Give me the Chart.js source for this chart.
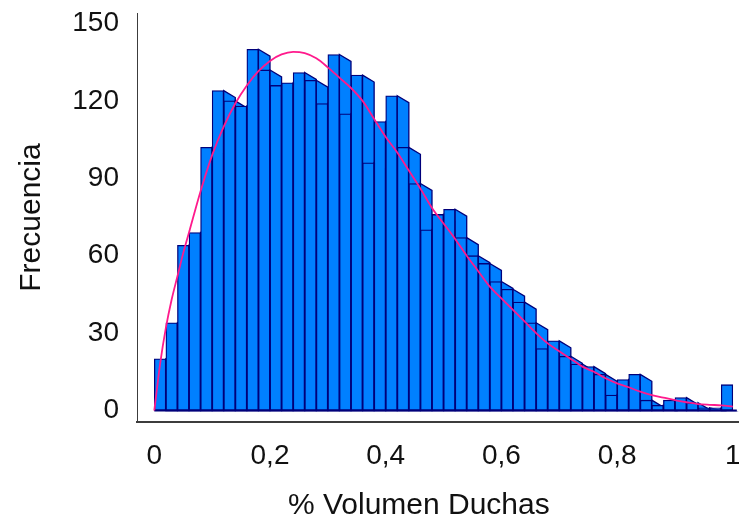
<!DOCTYPE html>
<html>
<head>
<meta charset="utf-8">
<script src="https://cdn.jsdelivr.net/npm/chart.js@4.4.1/dist/chart.umd.min.js"></script>
<style>
  html, body { margin: 0; padding: 0; background: #ffffff; }
  #wrap { width: 739px; height: 524px; }
</style>
</head>
<body>
<div id="wrap"><canvas id="chart" width="739" height="524"></canvas></div>
<script>
// Histogram bins (centre of each 0,02-wide class) and their frequencies
const binCenters = [0.01,0.03,0.05,0.07,0.09,0.11,0.13,0.15,0.17,0.19,
                    0.21,0.23,0.25,0.27,0.29,0.31,0.33,0.35,0.37,0.39,
                    0.41,0.43,0.45,0.47,0.49,0.51,0.53,0.55,0.57,0.59,
                    0.61,0.63,0.65,0.67,0.69,0.71,0.73,0.75,0.77,0.79,
                    0.81,0.83,0.85,0.87,0.89,0.91,0.93,0.95,0.97,0.99];
const frequencies = [20,34,64,69,102,124,120,118,140,132,
                     126,127,131,128,119,138,115,130,96,112,
                     122,102,88,70,76,78,67,60,57,50,
                     47,42,34,24,27,21,18,17,14,6,
                     12,14,4,2,4,5,3,1,1,10];

// Fitted density curve (scaled to frequencies)
const curveX = [0,0.01,0.02,0.03,0.04,0.05,0.06,0.08,0.10,0.12,0.14,0.16,0.18,0.20,0.22,0.24,0.26,0.28,
                0.30,0.32,0.34,0.36,0.38,0.40,0.42,0.44,0.46,0.48,0.50,0.52,0.54,0.56,0.58,
                0.60,0.62,0.64,0.66,0.68,0.70,0.72,0.74,0.76,0.78,0.80,0.82,0.84,0.86,0.88,
                0.90,0.92,0.94,0.96,0.98,1.00];
const curveY = [0,18,32,43,52,61,69,85,99,110,119,126,131.5,135.5,138,139,138.5,136.5,
                133,129,125,120,113,106,100,93,86,78.5,72.5,66.5,60,54,48,
                43.5,39,34.5,30,26,23,20,17,15,12.5,10.5,9,7.3,6,5,
                4,3.2,2.5,2.2,2,1.5];

// Axis ticks
const xTickValues = [0, 0.2, 0.4, 0.6, 0.8, 1];
const xTickLabels = ['0', '0,2', '0,4', '0,6', '0,8', '1'];
const yTickValues = [0, 30, 60, 90, 120, 150];

const BAR_FILL = '#0080ff';
const BAR_EDGE = '#00007a';

// Draws the receding side face of every bar, plus the common floor line
const barDepth = {
  id: 'barDepth',
  beforeDatasetsDraw(chart) {
    const bars = chart.getDatasetMeta(1).data;
    const ctx = chart.ctx;
    ctx.save();
    ctx.fillStyle = BAR_FILL;
    ctx.strokeStyle = BAR_EDGE;
    ctx.lineWidth = 1.3;
    bars.forEach((bar, i) => {
      if (i === bars.length - 1) return;
      const p = bar.getProps(['x', 'y', 'base', 'width'], true);
      const r = p.x + p.width / 2;
      const drop = Math.min(p.y + p.width * 0.6, p.base);
      ctx.beginPath();
      ctx.moveTo(r, p.y);
      ctx.lineTo(r + p.width, drop);
      ctx.lineTo(r + p.width, p.base);
      ctx.lineTo(r, p.base);
      ctx.closePath();
      ctx.fill();
      ctx.stroke();
    });
    ctx.restore();
  },
  afterDatasetDraw(chart, args) {
    if (args.index !== 1) return;
    const bars = chart.getDatasetMeta(1).data;
    const first = bars[0].getProps(['x', 'base', 'width'], true);
    const last = bars[bars.length - 1].getProps(['x', 'width'], true);
    const ctx = chart.ctx;
    ctx.save();
    ctx.strokeStyle = BAR_EDGE;
    ctx.lineWidth = 2;
    ctx.beginPath();
    ctx.moveTo(first.x - first.width / 2, first.base);
    ctx.lineTo(last.x + last.width / 2 + 4, first.base);
    ctx.stroke();
    ctx.restore();
  }
};

const tickFont = { family: "'Liberation Sans', sans-serif", size: 28 };
const titleFont = { family: "'Liberation Sans', sans-serif", size: 30 };

new Chart(document.getElementById('chart'), {
  data: {
    datasets: [
      {
        type: 'line',
        order: 0,
        data: curveX.map((x, i) => ({ x: x, y: curveY[i] })),
        borderColor: '#ff1a8c',
        borderWidth: 1.8,
        pointRadius: 0,
        cubicInterpolationMode: 'monotone',
        fill: false
      },
      {
        type: 'bar',
        order: 1,
        data: binCenters.map((x, i) => ({ x: x, y: frequencies[i] })),
        backgroundColor: BAR_FILL,
        borderColor: BAR_EDGE,
        borderWidth: 1.3,
        borderSkipped: false,
        barPercentage: 1,
        categoryPercentage: 1
      }
    ]
  },
  options: {
    responsive: false,
    animation: false,
    layout: { padding: { top: 13, right: 0, bottom: 0, left: 0 } },
    plugins: { legend: { display: false }, tooltip: { enabled: false } },
    scales: {
      x: {
        type: 'linear',
        offset: false,
        min: -0.0299,
        max: 1.0107,
        afterBuildTicks: s => { s.ticks = xTickValues.map(v => ({ value: v })); },
        afterFit: s => { s.height = 102; s.paddingLeft = 0; s.paddingRight = 0; },
        grid: { display: false },
        border: { display: true, color: '#3c3c3c', width: 2 },
        ticks: {
          padding: 9,
          color: '#111111',
          font: tickFont,
          maxRotation: 0,
          autoSkip: false,
          callback: (v, i) => xTickLabels[i]
        },
        title: {
          display: true,
          text: '% Volumen Duchas\u2002\u2002 ',
          color: '#111111',
          font: titleFont,
          padding: { top: 0, bottom: 0 }
        }
      },
      y: {
        type: 'linear',
        min: -4.46,
        max: 154.07,
        afterBuildTicks: s => { s.ticks = yTickValues.map(v => ({ value: v })); },
        afterFit: s => { s.width = 137; s.paddingTop = 0; s.paddingBottom = 0; },
        grid: { display: false },
        border: { display: true, color: '#3c3c3c', width: 1 },
        ticks: {
          padding: 10,
          color: '#111111',
          font: tickFont,
          autoSkip: false,
          callback: v => String(v)
        },
        title: {
          display: true,
          text: 'Frecuencia',
          color: '#111111',
          font: titleFont,
          padding: { top: 14, bottom: 0 }
        }
      }
    }
  },
  plugins: [barDepth]
});
</script>
</body>
</html>
